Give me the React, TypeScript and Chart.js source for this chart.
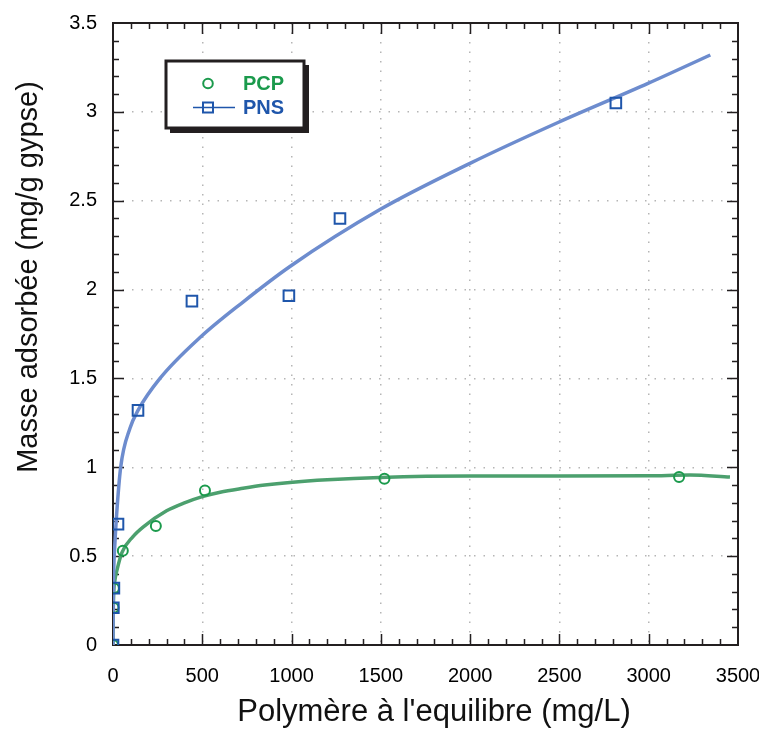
import React, { useEffect, useRef } from "react";
import { Chart, registerables } from "chart.js";
Chart.register(...registerables);

// Measured points
const pcpX = [0, 3, 5, 55, 240, 515, 1520, 3170];
const pcpY = [0, 0.21, 0.32, 0.53, 0.67, 0.87, 0.935, 0.945];
const pnsX = [0, 2, 5, 28, 140, 442, 985, 1271, 2816];
const pnsY = [0, 0.21, 0.32, 0.68, 1.32, 1.935, 1.965, 2.4, 3.05];

// Fitted curves
const pnsFitX = [0, 1, 4, 10, 20, 43, 95, 140, 263, 487, 728, 991, 1495, 1999, 2492, 2996, 3345];
const pnsFitY = [0, 0.22, 0.42, 0.56, 0.73, 1.0, 1.22, 1.32, 1.5, 1.73, 1.93, 2.13, 2.45, 2.71, 2.94, 3.16, 3.32];
const pcpFitX = [0, 1, 10, 22, 50, 112, 170, 300, 400, 500, 600, 728, 850, 991, 1200, 1495, 1999, 2492, 2996, 3231, 3455];
const pcpFitY = [0, 0.17, 0.36, 0.42, 0.52, 0.61, 0.665, 0.755, 0.8, 0.835, 0.86, 0.882, 0.9, 0.915, 0.93, 0.943, 0.951, 0.951, 0.952, 0.956, 0.945];

// Axes
const xTicks = [0, 500, 1000, 1500, 2000, 2500, 3000, 3500];
const yTicks = [0, 0.5, 1, 1.5, 2, 2.5, 3, 3.5];
const xMinorStep = 100;
const yMinorStep = 0.1;

const xTitle = "Polymère à l'equilibre (mg/L)";
const yTitle = "Masse adsorbée (mg/g gypse)";
const legendLabels = ["PCP", "PNS"];

const FONT = '"Liberation Sans", Arial, Helvetica, sans-serif';
const FRAME = "#231f20";
const BLUE_LINE = "#6d8cce";
const GREEN_LINE = "#4ca06e";
const BLUE_MARK = "#1f56ab";
const GREEN_MARK = "#1b9a4c";

const toPts = (xs: number[], ys: number[]) => xs.map((x, i) => ({ x, y: ys[i] }));

const decorPlugin = {
  id: "decor",
  beforeDatasetsDraw(chart: any) {
    const { ctx, chartArea } = chart;
    const { left, right, top, bottom } = chartArea;
    const xs = chart.scales.x;
    const ys = chart.scales.y;
    ctx.save();
    ctx.strokeStyle = FRAME;
    ctx.lineWidth = 2;
    ctx.strokeRect(left, top, right - left, bottom - top);
    ctx.lineWidth = 1.5;
    ctx.beginPath();
    const xmin = xs.min, xmax = xs.max, ymin = ys.min, ymax = ys.max;
    const nx = Math.round((xmax - xmin) / xMinorStep);
    for (let i = 1; i < nx; i++) {
      const v = xmin + i * xMinorStep;
      const p = Math.round(xs.getPixelForValue(v)) + 0.5;
      const major = xTicks.includes(v);
      const len = major ? 11 : 6;
      ctx.moveTo(p, bottom);
      ctx.lineTo(p, bottom - len);
      ctx.moveTo(p, top);
      ctx.lineTo(p, top + len);
    }
    const ny = Math.round((ymax - ymin) / yMinorStep);
    for (let i = 1; i < ny; i++) {
      const v = Math.round((ymin + i * yMinorStep) * 10) / 10;
      const p = Math.round(ys.getPixelForValue(v)) + 0.5;
      const major = yTicks.includes(v);
      const len = major ? 11 : 6;
      ctx.moveTo(left, p);
      ctx.lineTo(left + len, p);
      ctx.moveTo(right, p);
      ctx.lineTo(right - len, p);
    }
    ctx.stroke();
    ctx.restore();
  },
  afterDraw(chart: any) {
    const { ctx } = chart;
    ctx.save();
    // axis titles
    ctx.fillStyle = "#111";
    ctx.font = `31px ${FONT}`;
    ctx.textAlign = "center";
    ctx.textBaseline = "alphabetic";
    ctx.fillText(xTitle, 434, 721);
    ctx.save();
    ctx.translate(37, 277);
    ctx.rotate(-Math.PI / 2);
    ctx.font = `29px ${FONT}`;
    ctx.fillText(yTitle, 0, 0);
    ctx.restore();

    // legend box
    const bx = 166, by = 61, bw = 138, bh = 67;
    ctx.fillStyle = FRAME;
    ctx.fillRect(bx + 4, by + 4, bw + 1, bh + 1);
    ctx.fillStyle = "#ffffff";
    ctx.fillRect(bx, by, bw, bh);
    ctx.strokeStyle = FRAME;
    ctx.lineWidth = 3;
    ctx.strokeRect(bx, by, bw, bh);

    // PCP entry
    ctx.lineWidth = 2;
    ctx.strokeStyle = GREEN_MARK;
    ctx.beginPath();
    ctx.arc(208, 83.5, 4.8, 0, Math.PI * 2);
    ctx.stroke();
    // PNS entry
    ctx.lineWidth = 1.6;
    ctx.strokeStyle = BLUE_MARK;
    ctx.beginPath();
    ctx.moveTo(193, 107.5);
    ctx.lineTo(235, 107.5);
    ctx.stroke();
    ctx.lineWidth = 2;
    ctx.strokeRect(203, 102.5, 10, 10);

    ctx.font = `bold 20px ${FONT}`;
    ctx.textAlign = "left";
    ctx.textBaseline = "middle";
    ctx.fillStyle = GREEN_MARK;
    ctx.fillText(legendLabels[0], 243, 84);
    ctx.fillStyle = BLUE_MARK;
    ctx.fillText(legendLabels[1], 243, 108);
    ctx.restore();
  },
};

export default function App() {
  const ref = useRef<HTMLCanvasElement>(null);
  useEffect(() => {
    if (!ref.current) return;
    const chart = new Chart(ref.current, {
      type: "scatter",
      data: {
        datasets: [
          {
            label: "PNS points",
            data: toPts(pnsX, pnsY),
            showLine: false,
            pointStyle: "rect",
            pointRadius: 7.5,
            borderWidth: 2,
            borderColor: BLUE_MARK,
            backgroundColor: "rgba(0,0,0,0)",
            order: 0,
          },
          {
            label: "PCP points",
            data: toPts(pcpX, pcpY),
            showLine: false,
            pointStyle: "circle",
            pointRadius: 5,
            borderWidth: 2,
            borderColor: GREEN_MARK,
            backgroundColor: "rgba(0,0,0,0)",
            order: 1,
          },
          {
            label: "PNS fit",
            data: toPts(pnsFitX, pnsFitY),
            showLine: true,
            pointRadius: 0,
            borderWidth: 3.5,
            borderColor: BLUE_LINE,
            backgroundColor: BLUE_LINE,
            cubicInterpolationMode: "monotone",
            order: 2,
          },
          {
            label: "PCP fit",
            data: toPts(pcpFitX, pcpFitY),
            showLine: true,
            pointRadius: 0,
            borderWidth: 3.5,
            borderColor: GREEN_LINE,
            backgroundColor: GREEN_LINE,
            cubicInterpolationMode: "monotone",
            order: 3,
          },
        ] as any,
      },
      options: {
        animation: false,
        responsive: false,
        devicePixelRatio: 1,
        layout: { padding: { left: 0, right: 21, top: 23, bottom: 0 } },
        plugins: { legend: { display: false }, tooltip: { enabled: false } },
        scales: {
          x: {
            type: "linear",
            min: 0,
            max: 3500,
            afterBuildTicks: (s: any) => {
              s.ticks = xTicks.map((v) => ({ value: v }));
            },
            afterFit: (s: any) => {
              s.height = 91;
              s.paddingLeft = 0;
              s.paddingRight = 0;
            },
            grid: { display: true, color: "#b5b5b5", lineWidth: 1.5, drawTicks: false },
            border: { display: false, dash: [1.5, 8] },
            ticks: {
              padding: 19,
              color: "#000",
              font: { family: FONT, size: 20 },
              callback: (v: any) => String(v),
              maxRotation: 0,
            },
          },
          y: {
            type: "linear",
            min: 0,
            max: 3.5,
            afterBuildTicks: (s: any) => {
              s.ticks = yTicks.map((v) => ({ value: v }));
            },
            afterFit: (s: any) => {
              s.width = 113;
              s.paddingTop = 0;
              s.paddingBottom = 0;
            },
            grid: { display: true, color: "#b5b5b5", lineWidth: 1.5, drawTicks: false },
            border: { display: false, dash: [1.5, 8] },
            ticks: {
              padding: 16,
              color: "#000",
              font: { family: FONT, size: 20 },
              callback: (v: any) => String(v),
            },
          },
        },
      } as any,
      plugins: [decorPlugin],
    });
    return () => chart.destroy();
  }, []);
  return (
    <div style={{ position: "absolute", left: 0, top: 0, width: 759, height: 736, background: "#fff" }}>
      <canvas ref={ref} width={759} height={736} style={{ display: "block" }} />
    </div>
  );
}
